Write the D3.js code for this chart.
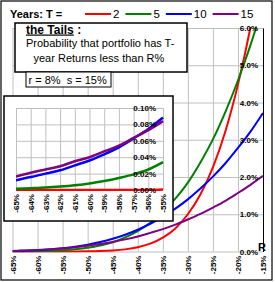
<!DOCTYPE html>
<html>
<head>
<meta charset="utf-8">
<script src="https://cdn.jsdelivr.net/npm/d3@7"></script>
<style>
  body { margin: 0; background: #fff; }
  svg { display: block; font-family: "Liberation Sans", Arial, sans-serif; }
  .tick text { font-size: 8px; font-weight: bold; fill: #000; }
</style>
</head>
<body>
<svg id="chart" width="275" height="282"></svg>
<script>
// return threshold R (%)
var returnsR = [-65, -64, -63, -62, -61, -60, -59, -58, -57, -56, -55,
                -52.5, -50, -47.5, -45, -42.5, -40, -37.5, -35, -32.5, -30,
                -27.5, -25, -22.5, -20, -17.5, -15];

// probability (%) that the T-year return is below R
var probT2  = [0, 0, 0, 0, 0, 0, 0, 0, 0, 0, 0.0005,
               0.0016, 0.0045, 0.0115, 0.027, 0.057, 0.113, 0.21, 0.37, 0.62, 1.0,
               1.53, 2.26, 3.23, 4.48, 6.02, 7.9];
var probT5  = [0.0015, 0.0022, 0.003, 0.0042, 0.0058, 0.008, 0.011, 0.0147, 0.019, 0.025, 0.034,
               0.06, 0.10, 0.163, 0.25, 0.38, 0.55, 0.77, 1.06, 1.42, 1.85,
               2.39, 3.01, 3.75, 4.59, 5.54, 6.61];
var probT10 = [0.012, 0.0158, 0.020, 0.024, 0.030, 0.036, 0.0435, 0.052, 0.063, 0.0745, 0.0885,
               0.129, 0.183, 0.253, 0.342, 0.451, 0.585, 0.745, 0.93, 1.15, 1.40,
               1.69, 2.01, 2.37, 2.78, 3.22, 3.72];
var probT15 = [0.0165, 0.021, 0.025, 0.029, 0.035, 0.040, 0.047, 0.054, 0.0635, 0.073, 0.084,
               0.114, 0.153, 0.20, 0.257, 0.325, 0.405, 0.50, 0.60, 0.72, 0.86,
               1.01, 1.18, 1.36, 1.57, 1.79, 2.03];

var years  = ["2", "5", "10", "15"];
var colors = ["#ff0000", "#008000", "#0000ff", "#800080"];

var xTicksMain  = [-65, -60, -55, -50, -45, -40, -35, -30, -25, -20, -15];
var yTicksMain  = [0, 1, 2, 3, 4, 5, 6];
var xTicksInset = [-65, -64, -63, -62, -61, -60, -59, -58, -57, -56, -55];
var yTicksInset = [0, 0.02, 0.04, 0.06, 0.08, 0.10];

var series = [probT2, probT5, probT10, probT15];

var svg = d3.select("#chart");

// outer frame
svg.append("rect")
   .attr("x", 1).attr("y", 1).attr("width", 271).attr("height", 279)
   .attr("fill", "#fff").attr("stroke", "#000").attr("stroke-width", 1.2);

// ---------- main chart ----------
var plot = {left: 12.5, right: 263, top: 28, bottom: 251.5};
var x = d3.scaleLinear().domain([-65, -15]).range([plot.left, plot.right]);
var y = d3.scaleLinear().domain([0, 6]).range([plot.bottom, plot.top]);

svg.append("clipPath").attr("id", "clipMain")
   .append("rect")
   .attr("x", plot.left).attr("y", plot.top - 1)
   .attr("width", plot.right - plot.left).attr("height", plot.bottom - plot.top + 2);

// grid
svg.append("g")
   .attr("transform", "translate(0," + plot.bottom + ")")
   .call(d3.axisBottom(x).tickValues(xTicksMain).tickSize(-(plot.bottom - plot.top)).tickFormat(""))
   .call(function(g){ g.select(".domain").remove(); })
   .selectAll("line").attr("stroke", "#c0c0c0");
svg.append("g")
   .attr("transform", "translate(" + plot.left + ",0)")
   .call(d3.axisRight(y).tickValues(yTicksMain).tickSize(plot.right - plot.left).tickFormat(""))
   .call(function(g){ g.select(".domain").remove(); })
   .selectAll("line").attr("stroke", "#c0c0c0");

// lines
var line = d3.line()
  .x(function(d, i){ return x(returnsR[i]); })
  .y(function(d){ return y(d); })
  .curve(d3.curveMonotoneX);

svg.append("g").attr("clip-path", "url(#clipMain)")
   .selectAll("path")
   .data(series)
   .enter()
     .append("path")
     .attr("d", line)
     .attr("fill", "none")
     .attr("stroke", function(d, i){ return colors[i]; })
     .attr("stroke-width", 2);

// right value axis, labels inside
var yAxis = svg.append("g")
   .attr("transform", "translate(" + plot.right + ",0)")
   .call(d3.axisLeft(y).tickValues(yTicksMain).tickSize(0).tickPadding(5)
         .tickFormat(function(d){ return d.toFixed(1) + "%"; }));
yAxis.select(".domain").attr("stroke", "#000");

// bottom category labels, rotated
var xAxis = svg.append("g")
   .attr("transform", "translate(0," + plot.bottom + ")")
   .call(d3.axisBottom(x).tickValues(xTicksMain).tickSize(0).tickFormat(function(d){ return d + "%"; }));
xAxis.select(".domain").remove();
xAxis.selectAll("text")
   .attr("transform", "rotate(-90)")
   .attr("text-anchor", "end")
   .attr("x", -4).attr("y", 0).attr("dy", "0.33em");

svg.append("text")
   .attr("x", 258).attr("y", 250.5)
   .attr("font-size", 11).attr("font-weight", "bold")
   .text("R");

// ---------- legend ----------
svg.append("text")
   .attr("x", 10).attr("y", 18)
   .attr("font-size", 11).attr("font-weight", "bold")
   .text("Years: T =");

var lx = 85;
years.forEach(function(t, i){
  svg.append("line")
     .attr("x1", lx).attr("x2", lx + 26).attr("y1", 14).attr("y2", 14)
     .attr("stroke", colors[i]).attr("stroke-width", 2);
  var txt = svg.append("text")
     .attr("x", lx + 28).attr("y", 18)
     .attr("font-size", 11.5)
     .text(t);
  lx = lx + 28 + txt.node().getComputedTextLength() + 6;
});

// ---------- text boxes ----------
svg.append("rect")
   .attr("x", 15).attr("y", 23).attr("width", 172).attr("height", 49)
   .attr("fill", "#fff").attr("stroke", "#000").attr("stroke-width", 1.5);
var title = svg.append("text")
   .attr("x", 26).attr("y", 33.5)
   .attr("font-size", 12).attr("font-weight", "bold");
title.append("tspan").attr("text-decoration", "underline").text("the Tails");
title.append("tspan").text(" :");
svg.append("text")
   .attr("x", 26).attr("y", 47)
   .attr("font-size", 11)
   .text("Probability that portfolio has T-");
svg.append("text")
   .attr("x", 33.5).attr("y", 62)
   .attr("font-size", 11)
   .text("year Returns less than R%");

svg.append("rect")
   .attr("x", 26).attr("y", 72).attr("width", 85).attr("height", 15)
   .attr("fill", "#fff").attr("stroke", "#000").attr("stroke-width", 1);
svg.append("text")
   .attr("x", 28.5).attr("y", 83.5)
   .attr("font-size", 11)
   .style("white-space", "pre")
   .text("r = 8%  s = 15%");

// ---------- inset: the far tail ----------
svg.append("rect")
   .attr("x", 4).attr("y", 96).attr("width", 169).attr("height", 125)
   .attr("fill", "#fff").attr("stroke", "#000").attr("stroke-width", 1.5);

var ip = {left: 16, right: 163, top: 108, bottom: 190};
var xi = d3.scaleLinear().domain([-65, -55]).range([ip.left, ip.right]);
var yi = d3.scaleLinear().domain([0, 0.1]).range([ip.bottom, ip.top]);

svg.append("clipPath").attr("id", "clipInset")
   .append("rect")
   .attr("x", ip.left).attr("y", ip.top - 2)
   .attr("width", ip.right - ip.left + 2).attr("height", ip.bottom - ip.top + 3);

svg.append("g")
   .attr("transform", "translate(0," + ip.bottom + ")")
   .call(d3.axisBottom(xi).tickValues(xTicksInset).tickSize(-(ip.bottom - ip.top)).tickFormat(""))
   .call(function(g){ g.select(".domain").remove(); })
   .selectAll("line").attr("stroke", "#c0c0c0");
svg.append("g")
   .attr("transform", "translate(" + ip.left + ",0)")
   .call(d3.axisRight(yi).tickValues(yTicksInset).tickSize(ip.right - ip.left).tickFormat(""))
   .call(function(g){ g.select(".domain").remove(); })
   .selectAll("line").attr("stroke", "#c0c0c0");

var tailIdx = d3.range(returnsR.length).filter(function(i){ return returnsR[i] >= -65 && returnsR[i] <= -55; });
var lineInset = d3.line()
  .x(function(i){ return xi(returnsR[i]); })
  .curve(d3.curveMonotoneX);

svg.append("g").attr("clip-path", "url(#clipInset)")
   .selectAll("path")
   .data(series)
   .enter()
     .append("path")
     .attr("d", function(s){ return lineInset.y(function(i){ return yi(s[i]); })(tailIdx); })
     .attr("fill", "none")
     .attr("stroke", function(d, i){ return colors[i]; })
     .attr("stroke-width", 2.5);

svg.append("g")
   .attr("transform", "translate(" + ip.right + ",0)")
   .call(d3.axisLeft(yi).tickValues(yTicksInset).tickSize(0).tickPadding(7)
         .tickFormat(function(d){ return d.toFixed(2) + "%"; }))
   .call(function(g){ g.select(".domain").remove(); });

var xAxisInset = svg.append("g")
   .attr("transform", "translate(0," + ip.bottom + ")")
   .call(d3.axisBottom(xi).tickValues(xTicksInset).tickSize(0).tickFormat(function(d){ return d + "%"; }));
xAxisInset.select(".domain").remove();
xAxisInset.selectAll("text")
   .attr("transform", "rotate(-90)")
   .attr("text-anchor", "end")
   .attr("x", -4).attr("y", 0).attr("dy", "0.33em");
</script>
</body>
</html>
